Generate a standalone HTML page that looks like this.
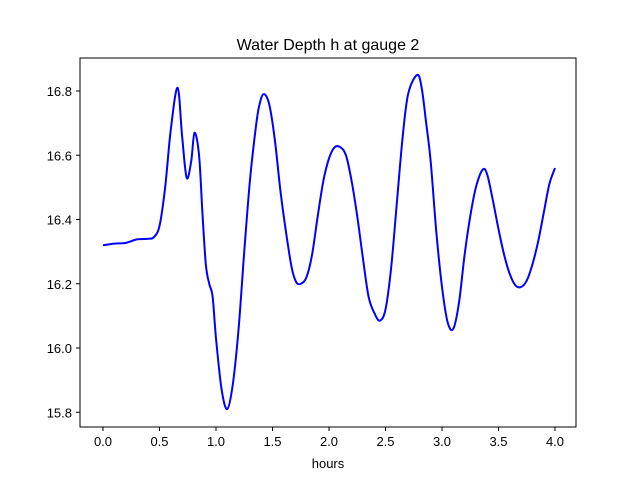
<!DOCTYPE html>
<html><head><meta charset="utf-8"><style>
body{margin:0;background:#fff;}
svg{display:block;font-family:"Liberation Sans","DejaVu Sans",sans-serif;}
</style></head><body>
<svg id="chart" width="640" height="480">
<rect width="640" height="480" fill="#fff"/>
<text x="328" y="50" font-size="16" text-anchor="middle">Water Depth h at gauge 2</text>
<g id="xt"></g><g id="yt"></g>
<path id="line" fill="none" stroke="#0000ff" stroke-width="2"/>
<rect x="80" y="58" width="496" height="369" fill="none" stroke="#000" stroke-width="1"/>
<text x="328" y="468" font-size="13" text-anchor="middle">hours</text>
</svg>
<script>
const hours=[0,0.1,0.2,0.3,0.4,0.45,0.5,0.55,0.6,0.66,0.7,0.74,0.78,0.81,0.85,0.88,0.91,0.94,0.97,1.0,1.05,1.1,1.15,1.2,1.25,1.3,1.35,1.38,1.42,1.47,1.52,1.57,1.62,1.67,1.71,1.75,1.8,1.85,1.9,1.95,2.0,2.05,2.1,2.15,2.2,2.25,2.3,2.35,2.4,2.45,2.5,2.55,2.6,2.65,2.7,2.78,2.82,2.86,2.9,2.95,3.0,3.05,3.1,3.15,3.2,3.25,3.3,3.36,3.4,3.45,3.5,3.55,3.6,3.65,3.7,3.75,3.8,3.85,3.9,3.95,4.0];
const depth=[16.32,16.325,16.327,16.338,16.34,16.345,16.38,16.5,16.68,16.81,16.66,16.53,16.58,16.67,16.6,16.42,16.26,16.2,16.16,16.03,15.87,15.81,15.89,16.06,16.3,16.52,16.68,16.75,16.79,16.76,16.65,16.49,16.36,16.25,16.205,16.2,16.22,16.29,16.41,16.52,16.59,16.625,16.625,16.6,16.52,16.41,16.28,16.16,16.11,16.085,16.12,16.25,16.45,16.65,16.79,16.85,16.81,16.7,16.58,16.36,16.19,16.08,16.06,16.14,16.29,16.41,16.5,16.555,16.54,16.46,16.37,16.29,16.23,16.195,16.19,16.21,16.26,16.33,16.42,16.51,16.56];
const xTicks=[0,0.5,1,1.5,2,2.5,3,3.5,4];
const yTicks=[15.8,16.0,16.2,16.4,16.6,16.8];
const NS="http://www.w3.org/2000/svg";
function sx(t){return 103+t*113;}
function sy(v){return 91+(16.8-v)*321.25;}
const xt=document.getElementById('xt'),yt=document.getElementById('yt');
xTicks.forEach(t=>{
 const l=document.createElementNS(NS,'line');
 
 
 l.setAttribute('x1',sx(t));l.setAttribute('x2',sx(t));l.setAttribute('y1',427);l.setAttribute('y2',431);l.setAttribute('stroke','#000');xt.appendChild(l);
 const tx=document.createElementNS(NS,'text');
 
 
 tx.setAttribute('x',sx(t));tx.setAttribute('y',446);tx.setAttribute('font-size','13');tx.setAttribute('text-anchor','middle');tx.textContent=t.toFixed(1);xt.appendChild(tx);
});
yTicks.forEach(v=>{
 const l=document.createElementNS(NS,'line');
 
 
 l.setAttribute('x1',76);l.setAttribute('x2',80);l.setAttribute('y1',sy(v));l.setAttribute('y2',sy(v));l.setAttribute('stroke','#000');yt.appendChild(l);
 const tx=document.createElementNS(NS,'text');
 
 
 tx.setAttribute('x',72);tx.setAttribute('y',sy(v)+5);tx.setAttribute('font-size','13');tx.setAttribute('text-anchor','end');tx.textContent=v.toFixed(1);yt.appendChild(tx);
});
const P=hours.map((t,i)=>[sx(t),sy(depth[i])]);
let d='M'+P[0][0]+','+P[0][1];
for(let i=0;i<P.length-1;i++){
 const p0=P[Math.max(0,i-1)],p1=P[i],p2=P[i+1],p3=P[Math.min(P.length-1,i+2)];
 const c1=[p1[0]+(p2[0]-p0[0])/6,p1[1]+(p2[1]-p0[1])/6];
 const c2=[p2[0]-(p3[0]-p1[0])/6,p2[1]-(p3[1]-p1[1])/6];
 d+=` C${c1[0]},${c1[1]} ${c2[0]},${c2[1]} ${p2[0]},${p2[1]}`;
}
document.getElementById('line').setAttribute('d',d);
</script>
</body></html>
